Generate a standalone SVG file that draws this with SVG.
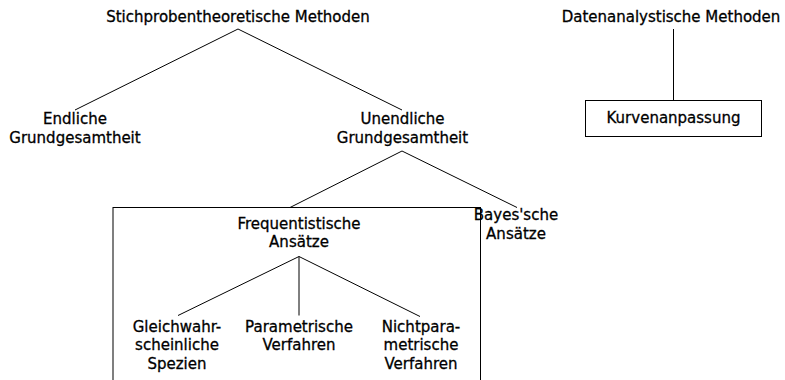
<svg xmlns="http://www.w3.org/2000/svg" width="785" height="380" viewBox="0 0 785 380">
<style>
text{font-family:"DejaVu Sans",sans-serif;font-size:15px;fill:#000;stroke:#000;stroke-width:0.3;text-anchor:middle}
.c line{stroke:#000;stroke-width:1}
.box{fill:none;stroke:#000;stroke-width:1}
</style>
<rect width="785" height="380" fill="#fff"/>
<g class="c" id="connectors">
<line x1="238" y1="29" x2="75" y2="110"/>
<line x1="238" y1="29" x2="402" y2="110"/>
<line x1="402" y1="151" x2="290" y2="207.5"/>
<line x1="402" y1="151" x2="517" y2="207.5"/>
<line x1="299" y1="256.5" x2="178" y2="315.5"/>
<line x1="299" y1="256.5" x2="299" y2="315.5"/>
<line x1="299" y1="256.5" x2="420" y2="316.5"/>
<line x1="673.5" y1="29" x2="673.5" y2="100.5"/>
</g>
<g id="stichproben"><text x="238" y="21.5">Stichprobentheoretische Methoden</text></g>
<g id="endliche"><text x="75" y="124">Endliche</text><text x="75" y="142.5">Grundgesamtheit</text></g>
<g id="unendliche"><text x="402.5" y="124">Unendliche</text><text x="402.5" y="142.5">Grundgesamtheit</text></g>
<g id="frequentistisch"><rect class="box" x="113" y="207.5" width="367.5" height="190"/><text x="299" y="228.5">Frequentistische</text><text x="299" y="247">Ansätze</text></g>
<g id="bayes"><text x="516" y="220">Bayes'sche</text><text x="516" y="238.5">Ansätze</text></g>
<g id="gleich"><text x="177" y="331.5">Gleichwahr-</text><text x="177" y="350">scheinliche</text><text x="177" y="368.5">Spezien</text></g>
<g id="param"><text x="299" y="331.5">Parametrische</text><text x="299" y="350">Verfahren</text></g>
<g id="nichtparam"><text x="421" y="331.5">Nichtpara-</text><text x="421" y="350">metrische</text><text x="421" y="368.5">Verfahren</text></g>
<g id="datenanalyse"><text x="671" y="21.5">Datenanalystische Methoden</text></g>
<g id="kurven"><rect class="box" x="585.5" y="100.5" width="176" height="36"/><text x="673.5" y="123">Kurvenanpassung</text></g>
</svg>
